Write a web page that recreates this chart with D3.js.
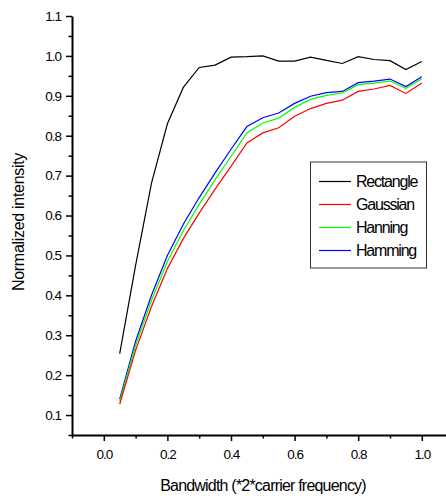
<!DOCTYPE html>
<html><head><meta charset="utf-8">
<script src="https://cdn.jsdelivr.net/npm/d3@7"></script>
<style>body{margin:0;background:#fff}svg{display:block}</style>
</head><body>
<script>
const bandwidth = [0.05,0.10,0.15,0.20,0.25,0.30,0.35,0.40,0.45,0.50,0.55,0.60,0.65,0.70,0.75,0.80,0.85,0.90,0.95,1.00];
const rectangle = [0.254,0.475,0.681,0.830,0.921,0.971,0.977,0.997,0.998,1.000,0.987,0.987,0.997,0.989,0.981,0.998,0.991,0.988,0.966,0.986];
const gaussian  = [0.127,0.262,0.372,0.467,0.542,0.606,0.666,0.723,0.782,0.807,0.820,0.849,0.868,0.881,0.889,0.911,0.917,0.926,0.906,0.932];
const hanning   = [0.134,0.275,0.387,0.485,0.562,0.628,0.690,0.748,0.807,0.832,0.844,0.871,0.891,0.901,0.907,0.928,0.932,0.937,0.919,0.943];
const hamming   = [0.140,0.285,0.400,0.500,0.578,0.645,0.707,0.766,0.823,0.845,0.857,0.881,0.899,0.908,0.911,0.933,0.937,0.942,0.923,0.948];
const seriesNames = ["Rectangle","Gaussian","Hanning","Hamming"];
const seriesColors = ["#000000","#ff0000","#00ff00","#0000ff"];
const xMajorTicks = [0.0,0.2,0.4,0.6,0.8,1.0];
const xMinorTicks = [-0.1,0.1,0.3,0.5,0.7,0.9,1.1];
const yMajorTicks = [0.1,0.2,0.3,0.4,0.5,0.6,0.7,0.8,0.9,1.0,1.1];
const yMinorTicks = [0.05,0.15,0.25,0.35,0.45,0.55,0.65,0.75,0.85,0.95,1.05];
const xTitle = "Bandwidth (*2*carrier frequency)";
const yTitle = "Normalized intensity";

const W = 446, H = 498;
const FONT = "'Liberation Sans', Arial, sans-serif";
const svg = d3.select("body").append("svg").attr("width", W).attr("height", H);

const x = d3.scaleLinear().domain([-0.1, 1.1]).range([72, 453.6]);
const y = d3.scaleLinear().domain([0.05, 1.1]).range([435, 16]);

// series lines
const seriesData = [rectangle, gaussian, hanning, hamming];
const line = d3.line().x((d, i) => x(bandwidth[i])).y(d => y(d));
const drawOrder = [0, 3, 2, 1];
drawOrder.forEach(k => {
  svg.append("path").datum(seriesData[k])
    .attr("d", line).attr("fill", "none")
    .attr("stroke", seriesColors[k]).attr("stroke-width", 1.2);
});

// x axis
const gx = svg.append("g").attr("transform", `translate(0,${y(0.05)})`);
gx.call(d3.axisBottom(x).tickValues(xMinorTicks).tickSize(3.5).tickFormat(""));
gx.call(g => g.select(".domain").remove());
gx.selectAll(".tick line").attr("stroke-width", 1.5);
const gx2 = svg.append("g").attr("transform", `translate(0,${y(0.05)})`);
gx2.call(d3.axisBottom(x).tickValues(xMajorTicks).tickSize(6).tickSizeOuter(0).tickPadding(8).tickFormat(d3.format(".1f")));
gx2.select(".domain").attr("stroke-width", 2);
gx2.selectAll(".tick line").attr("stroke-width", 1.5);
gx2.selectAll(".tick text").attr("font-family", FONT).attr("font-size", 13.5).attr("letter-spacing", "-1px").attr("fill", "#000");

// y axis
const gy = svg.append("g").attr("transform", `translate(${x(-0.1)},0)`);
gy.call(d3.axisLeft(y).tickValues(yMinorTicks).tickSize(3.5).tickFormat(""));
gy.call(g => g.select(".domain").remove());
gy.selectAll(".tick line").attr("stroke-width", 1.5);
const gy2 = svg.append("g").attr("transform", `translate(${x(-0.1)},0)`);
gy2.call(d3.axisLeft(y).tickValues(yMajorTicks).tickSize(6).tickSizeOuter(0).tickPadding(5).tickFormat(d3.format(".1f")));
gy2.select(".domain").attr("stroke-width", 2);
gy2.selectAll(".tick line").attr("stroke-width", 1.5);
gy2.selectAll(".tick text").attr("font-family", FONT).attr("font-size", 13.5).attr("letter-spacing", "-1px").attr("fill", "#000");

// titles
svg.append("text").attr("x", 263).attr("y", 491).attr("text-anchor", "middle")
  .attr("font-family", FONT).attr("font-size", 16).attr("letter-spacing", "-0.8px")
  .text(xTitle);
svg.append("text").attr("transform", "translate(24,222) rotate(-90)").attr("text-anchor", "middle")
  .attr("font-family", FONT).attr("font-size", 16).attr("letter-spacing", "-0.3px")
  .text(yTitle);

// legend
const lg = svg.append("g");
lg.append("rect").attr("x", 310.5).attr("y", 162).attr("width", 116).attr("height", 106)
  .attr("fill", "#fff").attr("stroke", "#333").attr("stroke-width", 1);
seriesNames.forEach((name, i) => {
  const yy = 181.5 + i * 23;
  lg.append("line").attr("x1", 319).attr("x2", 351).attr("y1", yy).attr("y2", yy)
    .attr("stroke", seriesColors[i]).attr("stroke-width", 1.2);
  lg.append("text").attr("x", 356).attr("y", yy).attr("dy", "0.36em")
    .attr("font-family", FONT).attr("font-size", 16).attr("letter-spacing", "-1.2px")
    .text(name);
});
</script>
</body></html>
